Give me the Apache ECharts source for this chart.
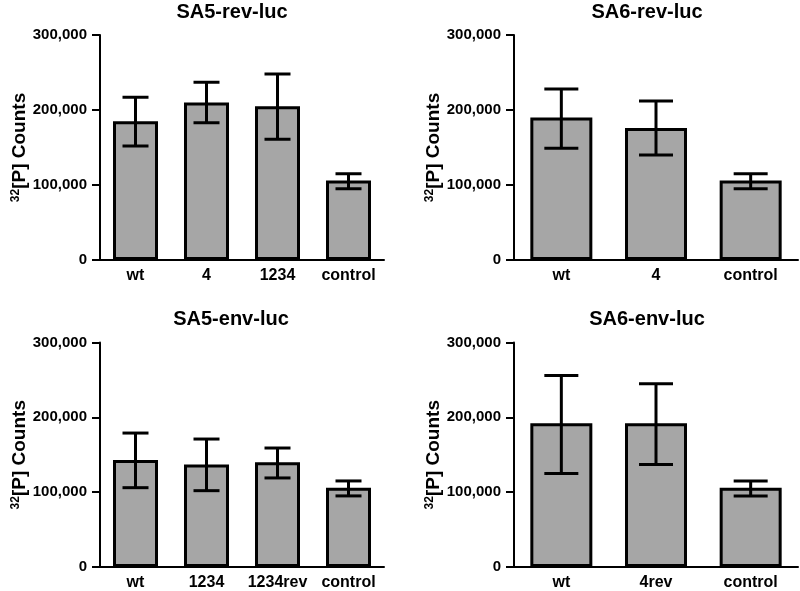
<!DOCTYPE html>
<html>
<head>
<meta charset="utf-8">
<script src="https://cdn.jsdelivr.net/npm/echarts@6/dist/echarts.min.js"></script>
<style>
html,body{margin:0;padding:0;background:#fff;}
#main{width:800px;height:591px;}
</style>
</head>
<body>
<div id="main"></div>
<script>
// ---- data ----
var titles = ['SA5-rev-luc', 'SA6-rev-luc', 'SA5-env-luc', 'SA6-env-luc'];
var cats1 = ['wt', '4', '1234', 'control'];
var cats2 = ['wt', '4', 'control'];
var cats3 = ['wt', '1234', '1234rev', 'control'];
var cats4 = ['wt', '4rev', 'control'];
var mean1 = [185000, 210000, 205000, 106000];
var high1 = [217000, 237000, 248000, 115000];
var low1  = [152000, 183000, 161000, 95000];
var mean2 = [190000, 176000, 106000];
var high2 = [228000, 212000, 115000];
var low2  = [149000, 140000, 95000];
var mean3 = [143000, 137000, 140000, 106000];
var high3 = [179000, 171000, 159000, 115000];
var low3  = [106000, 102000, 119000, 95000];
var mean4 = [192000, 192000, 106000];
var high4 = [256000, 245000, 115000];
var low4  = [125000, 137000, 95000];
var yTicks = [0, 100000, 200000, 300000];
var yAxisName = '{sup|32}{n|[P] Counts}';

var FONT = 'Liberation Sans, Arial, sans-serif';
var panels = [
  {cats: cats1, mean: mean1, high: high1, low: low1, left: 100, top: 35, barW: 45, capW: 26},
  {cats: cats2, mean: mean2, high: high2, low: low2, left: 514, top: 35, barW: 62, capW: 34},
  {cats: cats3, mean: mean3, high: high3, low: low3, left: 100, top: 342.5, barW: 45, capW: 26},
  {cats: cats4, mean: mean4, high: high4, low: low4, left: 514, top: 342.5, barW: 62, capW: 34}
];
var titleX = [227, 642, 226, 642];
var titleY = [-3, -3, 304.5, 304.5];

var option = {
  animation: false,
  backgroundColor: '#fff',
  title: [], grid: [], xAxis: [], yAxis: [], series: []
};

panels.forEach(function (p, i) {
  option.title.push({
    text: titles[i], left: titleX[i], top: titleY[i], textAlign: 'center',
    textStyle: {fontFamily: FONT, fontWeight: 'bold', fontSize: 20, color: '#000'}
  });
  option.grid.push({left: p.left, top: p.top, width: 284, height: 225, containLabel: false});
  option.xAxis.push({
    type: 'category', gridIndex: i, data: p.cats,
    axisLine: {lineStyle: {color: '#000', width: 2}},
    axisTick: {alignWithLabel: true, length: 7, lineStyle: {color: '#000', width: 2}},
    axisLabel: {interval: 0, fontFamily: FONT, fontWeight: 'bold', fontSize: 16, color: '#000', margin: 8}
  });
  option.yAxis.push({
    type: 'value', gridIndex: i, min: yTicks[0], max: yTicks[yTicks.length - 1], interval: yTicks[1] - yTicks[0],
    name: yAxisName, nameLocation: 'middle', nameRotate: 90, nameGap: 69,
    nameTextStyle: {
      rich: {
        sup: {fontFamily: FONT, fontWeight: 'bold', fontSize: 12, color: '#000', verticalAlign: 'top', lineHeight: 20},
        n: {fontFamily: FONT, fontWeight: 'bold', fontSize: 19, color: '#000', lineHeight: 20}
      }
    },
    splitLine: {show: false},
    axisLine: {show: true, lineStyle: {color: '#000', width: 2}},
    axisTick: {show: true, length: 8, lineStyle: {color: '#000', width: 2}},
    axisLabel: {
      fontFamily: FONT, fontWeight: 'bold', fontSize: 15, color: '#000', margin: 13,
      formatter: function (v) { return v.toLocaleString('en-US'); }
    }
  });
  option.series.push({
    type: 'bar', xAxisIndex: i, yAxisIndex: i, data: p.mean, barWidth: p.barW,
    itemStyle: {color: '#a6a6a6', borderColor: '#000', borderWidth: 3},
    z: 2
  });
  var errData = p.cats.map(function (c, k) { return [k, p.high[k], p.low[k]]; });
  option.series.push({
    type: 'custom', xAxisIndex: i, yAxisIndex: i, data: errData, z: 5,
    renderItem: (function (capW) {
      return function (params, api) {
        var hi = api.coord([api.value(0), api.value(1)]);
        var lo = api.coord([api.value(0), api.value(2)]);
        var st = {stroke: '#000', lineWidth: 3};
        return {
          type: 'group',
          children: [
            {type: 'line', shape: {x1: hi[0], y1: hi[1], x2: lo[0], y2: lo[1]}, style: st},
            {type: 'line', shape: {x1: hi[0] - capW / 2, y1: hi[1], x2: hi[0] + capW / 2, y2: hi[1]}, style: st},
            {type: 'line', shape: {x1: lo[0] - capW / 2, y1: lo[1], x2: lo[0] + capW / 2, y2: lo[1]}, style: st}
          ]
        };
      };
    })(p.capW)
  });
});

var chart = echarts.init(document.getElementById('main'), null, {renderer: 'canvas'});
chart.setOption(option);
</script>
</body>
</html>
